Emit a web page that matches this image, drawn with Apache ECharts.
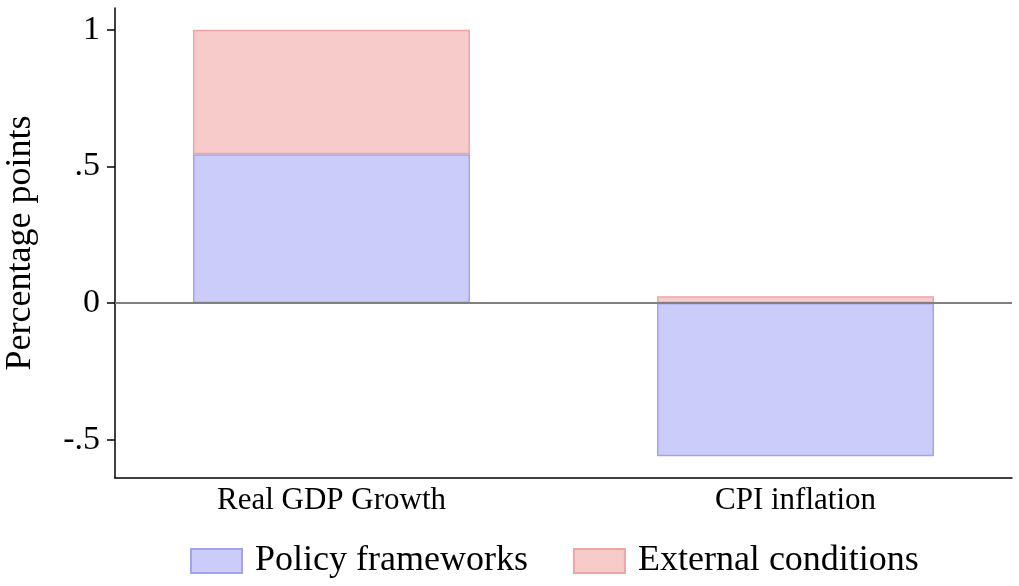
<!DOCTYPE html>
<html><head><meta charset="utf-8">
<script src="https://cdn.jsdelivr.net/npm/echarts@6/dist/echarts.min.js"></script>
<style>html,body{margin:0;padding:0;background:#fff}#c{width:1019px;height:586px}</style>
</head><body><div id="c"></div>
<script>
const categories = ["Real GDP Growth", "CPI inflation"];
const categoryPositions = [1, 2];
const policyFrameworks = [0.545, -0.56];
const externalConditions = [0.455, 0.025];
const yTickValues = [-0.5, 0, 0.5, 1];
const yTickLabels = ["-.5", "0", ".5", "1"];

const FONT = "Liberation Serif";
const chart = echarts.init(document.getElementById('c'));
chart.setOption({
  animation: false,
  backgroundColor: '#fff',
  textStyle: { fontFamily: FONT, color: '#000' },
  grid: { left: 115, right: 7, top: 8, bottom: 108, containLabel: false, outerBoundsMode: 'none' },
  legend: {
    left: 185, top: 538,
    itemWidth: 51, itemHeight: 24, itemGap: 45,
    icon: 'rect',
    textStyle: { fontFamily: FONT, fontSize: 36, color: '#000', padding: [0, 0, 0, 8] },
    data: ['Policy frameworks', 'External conditions']
  },
  xAxis: {
    type: 'value', min: 0.5334, max: 2.4666,
    splitLine: { show: false },
    axisTick: { show: false },
    axisLine: { show: true, onZero: false, lineStyle: { color: '#000', width: 1.5 } },
    axisLabel: {
      customValues: categoryPositions,
      formatter: v => categories[categoryPositions.indexOf(Math.round(v))] || '',
      fontFamily: FONT, fontSize: 31, color: '#000', margin: 7
    }
  },
  yAxis: {
    type: 'value', min: -0.64, max: 1.08,
    name: 'Percentage points', nameLocation: 'middle', nameGap: 76,
    nameTextStyle: { fontFamily: FONT, fontSize: 36, color: '#000' },
    splitLine: { show: false },
    axisLine: { show: true, onZero: false, lineStyle: { color: '#000', width: 1.5 } },
    axisTick: { show: true, customValues: yTickValues, length: 8, lineStyle: { color: '#000', width: 1.5 } },
    axisLabel: {
      customValues: yTickValues,
      formatter: v => yTickLabels[yTickValues.indexOf(Math.round(v * 100) / 100)] ?? '',
      fontFamily: FONT, fontSize: 34, color: '#000', margin: 15
    }
  },
  series: [
    {
      name: 'Policy frameworks', type: 'bar', stack: 's', barWidth: 277,
      encode: { x: 1, y: 0 },
      data: categoryPositions.map((x, i) => [policyFrameworks[i], x]),
      itemStyle: { color: '#ccccfa', borderColor: '#a3a3ea', borderWidth: 1.5 },
      markLine: {
        silent: true, symbol: 'none', label: { show: false },
        lineStyle: { color: '#808080', width: 2, type: 'solid' },
        data: [{ yAxis: 0 }]
      },
      z: 2
    },
    {
      name: 'External conditions', type: 'bar', stack: 's', barWidth: 277,
      encode: { x: 1, y: 0 },
      data: categoryPositions.map((x, i) => [externalConditions[i], x]),
      itemStyle: { color: '#f8cbcb', borderColor: '#eea5a5', borderWidth: 1.5 },
      z: 2
    }
  ]
});
</script></body></html>
